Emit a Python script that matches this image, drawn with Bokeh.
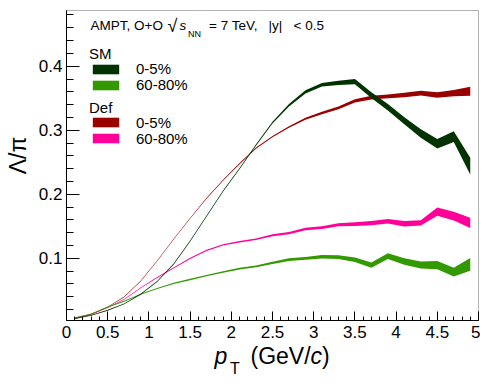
import math
from bokeh.plotting import figure
from bokeh.models import (Range1d, FixedTicker, CustomJSTickFormatter, Label,
                          Legend, LegendItem, BoxAnnotation)
from bokeh.embed import file_html
from bokeh.resources import INLINE

# ---------------- data ----------------
pt = [0.1, 0.3, 0.5, 0.7, 0.9, 1.1, 1.3, 1.5, 1.7, 1.9, 2.1, 2.3, 2.5,
      2.7, 2.9, 3.1, 3.3, 3.5, 3.7, 3.9, 4.1, 4.3, 4.5, 4.7, 4.9]

sm_0_5 = [0.006, 0.011, 0.019, 0.029, 0.044, 0.064, 0.091, 0.127, 0.166, 0.205,
          0.240, 0.277, 0.312, 0.339, 0.360, 0.371, 0.374, 0.376, 0.355, 0.336,
          0.315, 0.295, 0.279, 0.290, 0.244]
sm_0_5_err = [0.0006, 0.0006, 0.0006, 0.0007, 0.0007, 0.0008, 0.0008, 0.0009, 0.0009,
              0.001, 0.001, 0.0012, 0.0015, 0.002, 0.0025, 0.0028, 0.0032, 0.004,
              0.0045, 0.005, 0.0055, 0.0065, 0.0075, 0.0085, 0.013]

sm_60_80 = [0.007, 0.0135, 0.024, 0.033, 0.044, 0.053, 0.061, 0.067, 0.073, 0.0786,
            0.084, 0.0875, 0.093, 0.098, 0.100, 0.1025, 0.102, 0.098, 0.0895, 0.1035,
            0.095, 0.0895, 0.0895, 0.0786, 0.0906]
sm_60_80_err = [0.0006, 0.0006, 0.0007, 0.0007, 0.0008, 0.0008, 0.0009, 0.001, 0.0011,
                0.0012, 0.0013, 0.0015, 0.0018, 0.002, 0.0023, 0.0026, 0.003, 0.0035,
                0.004, 0.0045, 0.005, 0.0055, 0.0065, 0.0068, 0.010]

def_0_5 = [0.006, 0.0125, 0.024, 0.040, 0.0645, 0.096, 0.130, 0.1625, 0.194, 0.222,
           0.248, 0.272, 0.290, 0.305, 0.318, 0.327, 0.335, 0.346, 0.351, 0.353,
           0.355, 0.358, 0.355, 0.358, 0.361]
def_0_5_err = [0.0005, 0.0005, 0.0005, 0.0006, 0.0006, 0.0006, 0.0007, 0.0007, 0.0008,
               0.0008, 0.0009, 0.001, 0.001, 0.0012, 0.0015, 0.0018, 0.002, 0.0026,
               0.0028, 0.003, 0.0034, 0.0038, 0.0042, 0.005, 0.007]

def_60_80 = [0.007, 0.0125, 0.023, 0.036, 0.054, 0.070, 0.085, 0.100, 0.1125, 0.121,
             0.126, 0.130, 0.136, 0.1395, 0.146, 0.148, 0.1525, 0.1535, 0.155, 0.158,
             0.154, 0.1555, 0.173, 0.166, 0.1555]
def_60_80_err = [0.0006, 0.0006, 0.0006, 0.0007, 0.0007, 0.0008, 0.0008, 0.0009, 0.001,
                 0.001, 0.0011, 0.0012, 0.0015, 0.0017, 0.002, 0.0022, 0.0025, 0.0028,
                 0.0032, 0.0036, 0.0044, 0.004, 0.0063, 0.0068, 0.008]

x_ticks = [0, 0.5, 1, 1.5, 2, 2.5, 3, 3.5, 4, 4.5, 5]
y_ticks = [0.1, 0.2, 0.3, 0.4]
x_lim = (0.0, 5.0)
y_lim = (0.003, 0.487)

col_sm0 = "#003300"
col_sm60 = "#339900"
col_def0 = "#990000"
col_def60 = "#ff0099"

FONT = "Liberation Sans"

# ---------------- layout (pixels) ----------------
W, H = 480, 382
BOX_L, BOX_R, BOX_T, BOX_B = 66.0, 478.0, 10.0, 320.0
sxu = (BOX_R - BOX_L) / (x_lim[1] - x_lim[0])
syu = (BOX_B - BOX_T) / (y_lim[1] - y_lim[0])
xr = Range1d(x_lim[0] - BOX_L / sxu, x_lim[1] + (W - BOX_R) / sxu)
yr = Range1d(y_lim[0] - (H - BOX_B) / syu, y_lim[1] + BOX_T / syu)

p = figure(width=W, height=H, output_backend="svg", toolbar_location=None,
           x_range=xr, y_range=yr,
           min_border_left=0, min_border_right=0, min_border_top=0,
           min_border_bottom=0)
p.grid.visible = False
p.outline_line_color = None
p.background_fill_color = "white"
p.border_fill_color = "white"

x_minor = [round(i * 0.1, 2) for i in range(51)]
y_minor = [round(i * 0.02, 2) for i in range(1, 25)]
p.xaxis.ticker = FixedTicker(ticks=x_ticks, minor_ticks=x_minor)
p.yaxis.ticker = FixedTicker(ticks=y_ticks, minor_ticks=y_minor)
p.xaxis.fixed_location = y_lim[0]
p.yaxis.fixed_location = x_lim[0]
p.xaxis.bounds = x_lim
p.yaxis.bounds = y_lim

fmt = CustomJSTickFormatter(code="return String(Number(tick.toFixed(2)));")
for ax in (p.xaxis[0], p.yaxis[0]):
    ax.formatter = fmt
    ax.major_tick_out = 0
    ax.minor_tick_out = 0
    ax.major_label_text_font = FONT
    ax.major_label_text_font_size = "17px"
    ax.major_label_text_color = "black"
    ax.axis_line_color = "black"
    ax.major_tick_line_color = "black"
    ax.minor_tick_line_color = "black"
p.xaxis.major_tick_in = 9
p.xaxis.minor_tick_in = 4
p.yaxis.major_tick_in = 13
p.yaxis.minor_tick_in = 7
p.xaxis.major_label_standoff = 5
p.yaxis.major_label_standoff = 4

p.add_layout(BoxAnnotation(left=x_lim[0], right=x_lim[1], bottom=y_lim[0], top=y_lim[1],
                           fill_alpha=0, line_color="black", line_width=1))

# ---------------- bands ----------------
def band(vals, errs, color):
    lo = [v - e for v, e in zip(vals, errs)]
    hi = [v + e for v, e in zip(vals, errs)]
    return p.varea(x=pt, y1=lo, y2=hi, fill_color=color, fill_alpha=1.0)

r_def0 = band(def_0_5, def_0_5_err, col_def0)
r_def60 = band(def_60_80, def_60_80_err, col_def60)
r_sm60 = band(sm_60_80, sm_60_80_err, col_sm60)
r_sm0 = band(sm_0_5, sm_0_5_err, col_sm0)

# ---------------- legends (one row each, for exact spacing) ----------------
def make_legend(label, renderer, center_y):
    lg = Legend(items=[LegendItem(label=label, renderers=[renderer])],
                location=(89, H - (center_y + 9)), orientation="vertical")
    lg.label_text_font = FONT
    lg.label_text_font_size = "15px"
    lg.label_text_color = "black"
    lg.glyph_width = 33
    lg.glyph_height = 12
    lg.label_height = 12
    lg.label_standoff = 14
    lg.spacing = 0
    lg.padding = 0
    lg.margin = 0
    lg.border_line_alpha = 0
    lg.background_fill_alpha = 0
    p.add_layout(lg)

make_legend("0-5%", r_sm0, 68)
make_legend("60-80%", r_sm60, 84)
make_legend("0-5%", r_def0, 121.5)
make_legend("60-80%", r_def60, 137.5)

# ---------------- texts (pixel positions of the cap-height centre) ----------------
def lab(text, x, y, size, style="normal", align="left", angle=0.0):
    p.add_layout(Label(x=x, y=H - y, x_units="screen", y_units="screen", text=text,
                       text_font=FONT, text_font_size=size, text_font_style=style,
                       text_align=align, text_baseline="middle", angle=angle,
                       text_color="black"))

# legend group titles
lab("SM", 88.5, 52.8, "15px")
lab("Def", 88.5, 106.7, "15px")

# header
lab("AMPT, O+O", 90, 25.3, "13.5px")
lab("\u221a", 167, 25.0, "18px")
lab("s", 179, 25.3, "13.5px", style="italic")
lab("NN", 187.5, 33.5, "9px")
lab("= 7 TeV,", 208.5, 25.3, "13.5px")
lab("|y|", 268, 25.3, "13.5px")
lab("< 0.5", 293, 25.3, "13.5px")

# x title
lab("p", 214, 355.0, "23px", style="italic")
lab("T", 229.5, 368.3, "16px")
lab("(GeV/", 250, 355.0, "23px")
lab("c", 310, 355.0, "23px", style="italic")
lab(")", 321.5, 355.0, "23px")

# y title
lab("\u039b/\u03c0", 17, 155, "23px", align="center", angle=math.pi / 2)

open("out.html", "w").write(file_html(p, INLINE))
